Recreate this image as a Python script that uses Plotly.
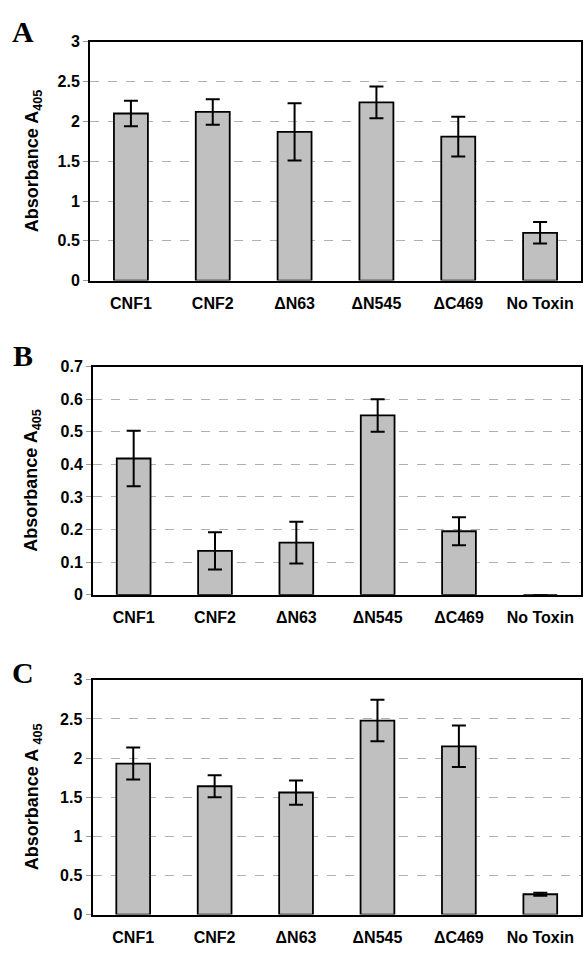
import plotly.graph_objects as go

categories = ["CNF1", "CNF2", "ΔN63", "ΔN545", "ΔC469", "No Toxin"]

a_values = [2.10, 2.12, 1.87, 2.24, 1.81, 0.60]
a_errors = [0.16, 0.16, 0.36, 0.20, 0.25, 0.135]

b_values = [0.418, 0.135, 0.160, 0.550, 0.195, 0.0]
b_errors = [0.085, 0.057, 0.064, 0.050, 0.043, None]

c_values = [1.93, 1.64, 1.56, 2.48, 2.15, 0.26]
c_errors = [0.205, 0.14, 0.155, 0.265, 0.265, 0.02]

W, H = 585, 956
FONT = "Arial, Liberation Sans, sans-serif"

panels = [
    # (values, errors, ymax, dtick, x0, x1, ytop, ybottom, title, letter, letter_y)
    (a_values, a_errors, 3.0, 0.5, 90, 581, 34.5, 277.5, "Absorbance A<sub>405</sub>", "A", 24),
    (b_values, b_errors, 0.7, 0.1, 93, 581, 365, 597.5, "Absorbance A<sub>405</sub>", "B", 354),
    (c_values, c_errors, 3.0, 0.5, 92.5, 581, 684, 923, "Absorbance A <sub>405</sub>", "C", 677),
]

fig = go.Figure()
annotations = []
for i, (vals, errs, ymax, dt, x0, x1, yt, yb, title, letter, ly) in enumerate(panels):
    n = "" if i == 0 else str(i + 1)
    fig.add_trace(go.Bar(
        x=categories, y=vals,
        xaxis="x" + n, yaxis="y" + n,
        marker=dict(color="#c0c0c0", line=dict(color="black", width=1.8)),
        error_y=dict(type="data", array=errs, visible=True,
                     color="black", thickness=2, width=7),
        showlegend=False,
    ))
    fig.update_layout(**{
        "xaxis" + n: dict(
            domain=[x0 / W, x1 / W], anchor="y" + n,
            showline=True, linecolor="black", linewidth=2, mirror=True,
            ticks="", showgrid=False, ticklabelstandoff=7,
            tickfont=dict(family=FONT, size=16, color="black", weight="bold"),
        ),
        "yaxis" + n: dict(
            domain=[1 - yb / H, 1 - yt / H], anchor="x" + n,
            range=[0, ymax], dtick=dt, tick0=0,
            showline=True, linecolor="black", linewidth=2, mirror=True,
            ticks="outside", ticklen=5, tickcolor="#999999", tickwidth=1,
            showgrid=True, gridcolor="#b0b0b0", griddash="dash", gridwidth=1,
            zeroline=False,
            tickfont=dict(family=FONT, size=16, color="black", weight="bold"),
        ),
    })
    annotations.append(dict(
        x=33 / W, y=1 - ((yt + yb) / 2) / H, xref="paper", yref="paper",
        text=title, textangle=-90, showarrow=False,
        font=dict(family=FONT, size=18, color="black", weight="bold"),
        xanchor="center", yanchor="middle",
    ))
    annotations.append(dict(
        x=23 / W, y=1 - ly / H, xref="paper", yref="paper",
        text=letter, showarrow=False,
        font=dict(family="Liberation Serif, Times New Roman, serif", size=30,
                  color="black", weight="bold"),
        xanchor="center", yanchor="middle",
    ))

fig.update_layout(
    width=W, height=H,
    margin=dict(l=0, r=0, t=0, b=0),
    paper_bgcolor="white", plot_bgcolor="white",
    bargap=0.585,
    annotations=annotations,
)

fig.write_html(
    "out.html",
    config={"displayModeBar": False},
    post_script="document.body.style.margin='0';document.body.style.overflow='hidden';",
)
